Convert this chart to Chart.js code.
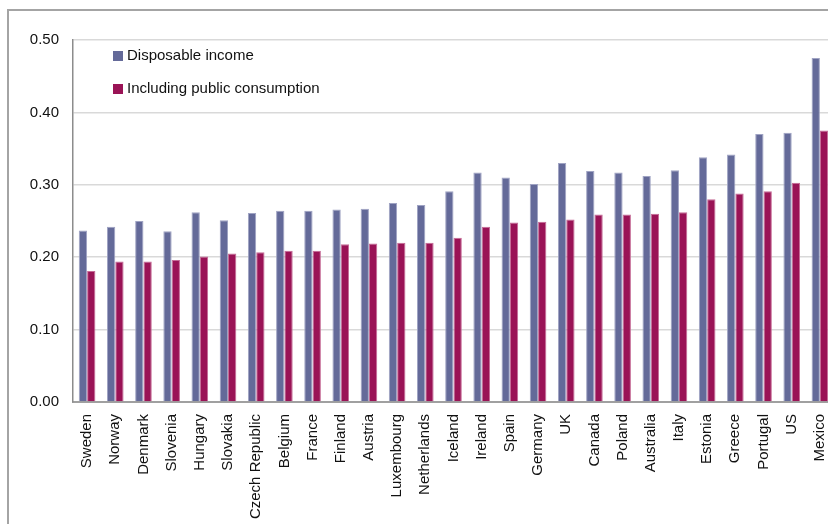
<!DOCTYPE html>
<html>
<head>
<meta charset="utf-8">
<script src="https://cdn.jsdelivr.net/npm/chart.js@4/dist/chart.umd.min.js"></script>
<style>
  html, body { margin: 0; padding: 0; background: #fff; width: 828px; height: 524px; overflow: hidden; }
  #wrap { position: relative; width: 828px; height: 524px; overflow: hidden; }
  #frame { position: absolute; left: 7px; top: 9px; width: 900px; height: 600px;
           border-left: 2px solid #a4a4a4; border-top: 2px solid #a4a4a4; box-sizing: border-box; }
  canvas { position: absolute; left: 0; top: 0; }
</style>
</head>
<body>
<div id="wrap">
  <div id="frame"></div>
  <canvas id="c" width="834" height="524"></canvas>
</div>
<script>
const categories = ['Sweden','Norway','Denmark','Slovenia','Hungary','Slovakia','Czech Republic','Belgium','France','Finland','Austria','Luxembourg','Netherlands','Iceland','Ireland','Spain','Germany','UK','Canada','Poland','Australia','Italy','Estonia','Greece','Portugal','US','Mexico'];
const disposableIncome = [0.237,0.242,0.250,0.236,0.262,0.251,0.261,0.264,0.264,0.266,0.267,0.275,0.272,0.291,0.317,0.310,0.301,0.330,0.319,0.317,0.312,0.320,0.338,0.342,0.370,0.372,0.475];
const inclPublicConsumption = [0.181,0.194,0.194,0.196,0.201,0.205,0.207,0.209,0.209,0.218,0.219,0.220,0.220,0.227,0.242,0.248,0.249,0.252,0.259,0.259,0.260,0.262,0.280,0.288,0.291,0.303,0.375];
const seriesLabels = ['Disposable income', 'Including public consumption'];
const yTicks = [0, 0.1, 0.2, 0.3, 0.4, 0.5];

function hasFont(name) {
  const ctx = document.createElement('canvas').getContext('2d');
  const s = 'abcdefghijklmnopqrstuvwxyz0123456789';
  ctx.font = '20px monospace';
  const w1 = ctx.measureText(s).width;
  ctx.font = "20px '" + name + "', monospace";
  return ctx.measureText(s).width !== w1;
}
let fam = 'Liberation Sans', size = 15;
if (hasFont('Liberation Sans Narrow')) { fam = 'Liberation Sans Narrow'; size = 18; }
else if (hasFont('Arial Narrow')) { fam = 'Arial Narrow'; size = 18; }
const font = { family: fam, size: size };
const textColor = '#111';

const legendPlugin = {
  id: 'innerLegend',
  afterDatasetsDraw(chart) {
    const ctx = chart.ctx;
    const a = chart.chartArea;
    ctx.save();
    ctx.font = size + "px '" + fam + "'";
    ctx.textBaseline = 'middle';
    ctx.textAlign = 'left';
    chart.data.datasets.forEach((ds, i) => {
      const bx = a.left + 40, by = a.top + 11 + i * 33;
      ctx.fillStyle = ds.backgroundColor;
      ctx.fillRect(bx, by, 10, 10);
      ctx.fillStyle = textColor;
      ctx.fillText(ds.label, bx + 14, by + 5);
    });
    ctx.restore();
  }
};

new Chart(document.getElementById('c'), {
  type: 'bar',
  data: {
    labels: categories,
    datasets: [
      { label: seriesLabels[0], data: disposableIncome, backgroundColor: '#646a99', borderColor: '#9fa3c3', borderWidth: 1,
        categoryPercentage: 0.59, barPercentage: 1.0 },
      { label: seriesLabels[1], data: inclPublicConsumption, backgroundColor: '#9a1356', borderColor: '#c56a96', borderWidth: 1,
        categoryPercentage: 0.59, barPercentage: 1.0 }
    ]
  },
  options: {
    responsive: false,
    animation: false,
    devicePixelRatio: 1,
    layout: { padding: { top: 40, left: 0, right: 0, bottom: 0 } },
    plugins: { legend: { display: false }, tooltip: { enabled: false } },
    scales: {
      x: {
        grid: { display: false, drawTicks: false },
        border: { display: true, color: '#a0a0a0', width: 2 },
        ticks: { autoSkip: false, maxRotation: 90, minRotation: 90, padding: 12, font: font, color: textColor },
        afterFit(scale) { scale.height = 122; scale.paddingLeft = 0; scale.paddingRight = 0; }
      },
      y: {
        min: 0, max: 0.5,
        afterBuildTicks(scale) { scale.ticks = yTicks.map(v => ({ value: v })); },
        grid: { color: '#d9d9d9', lineWidth: 1.5, drawTicks: false },
        border: { display: true, color: '#8c8c8c', width: 1.5 },
        ticks: { padding: 14, font: font, color: textColor, callback: v => Number(v).toFixed(2) },
        afterFit(scale) { scale.width = 73; }
      }
    }
  },
  plugins: [legendPlugin]
});
</script>
</body>
</html>
